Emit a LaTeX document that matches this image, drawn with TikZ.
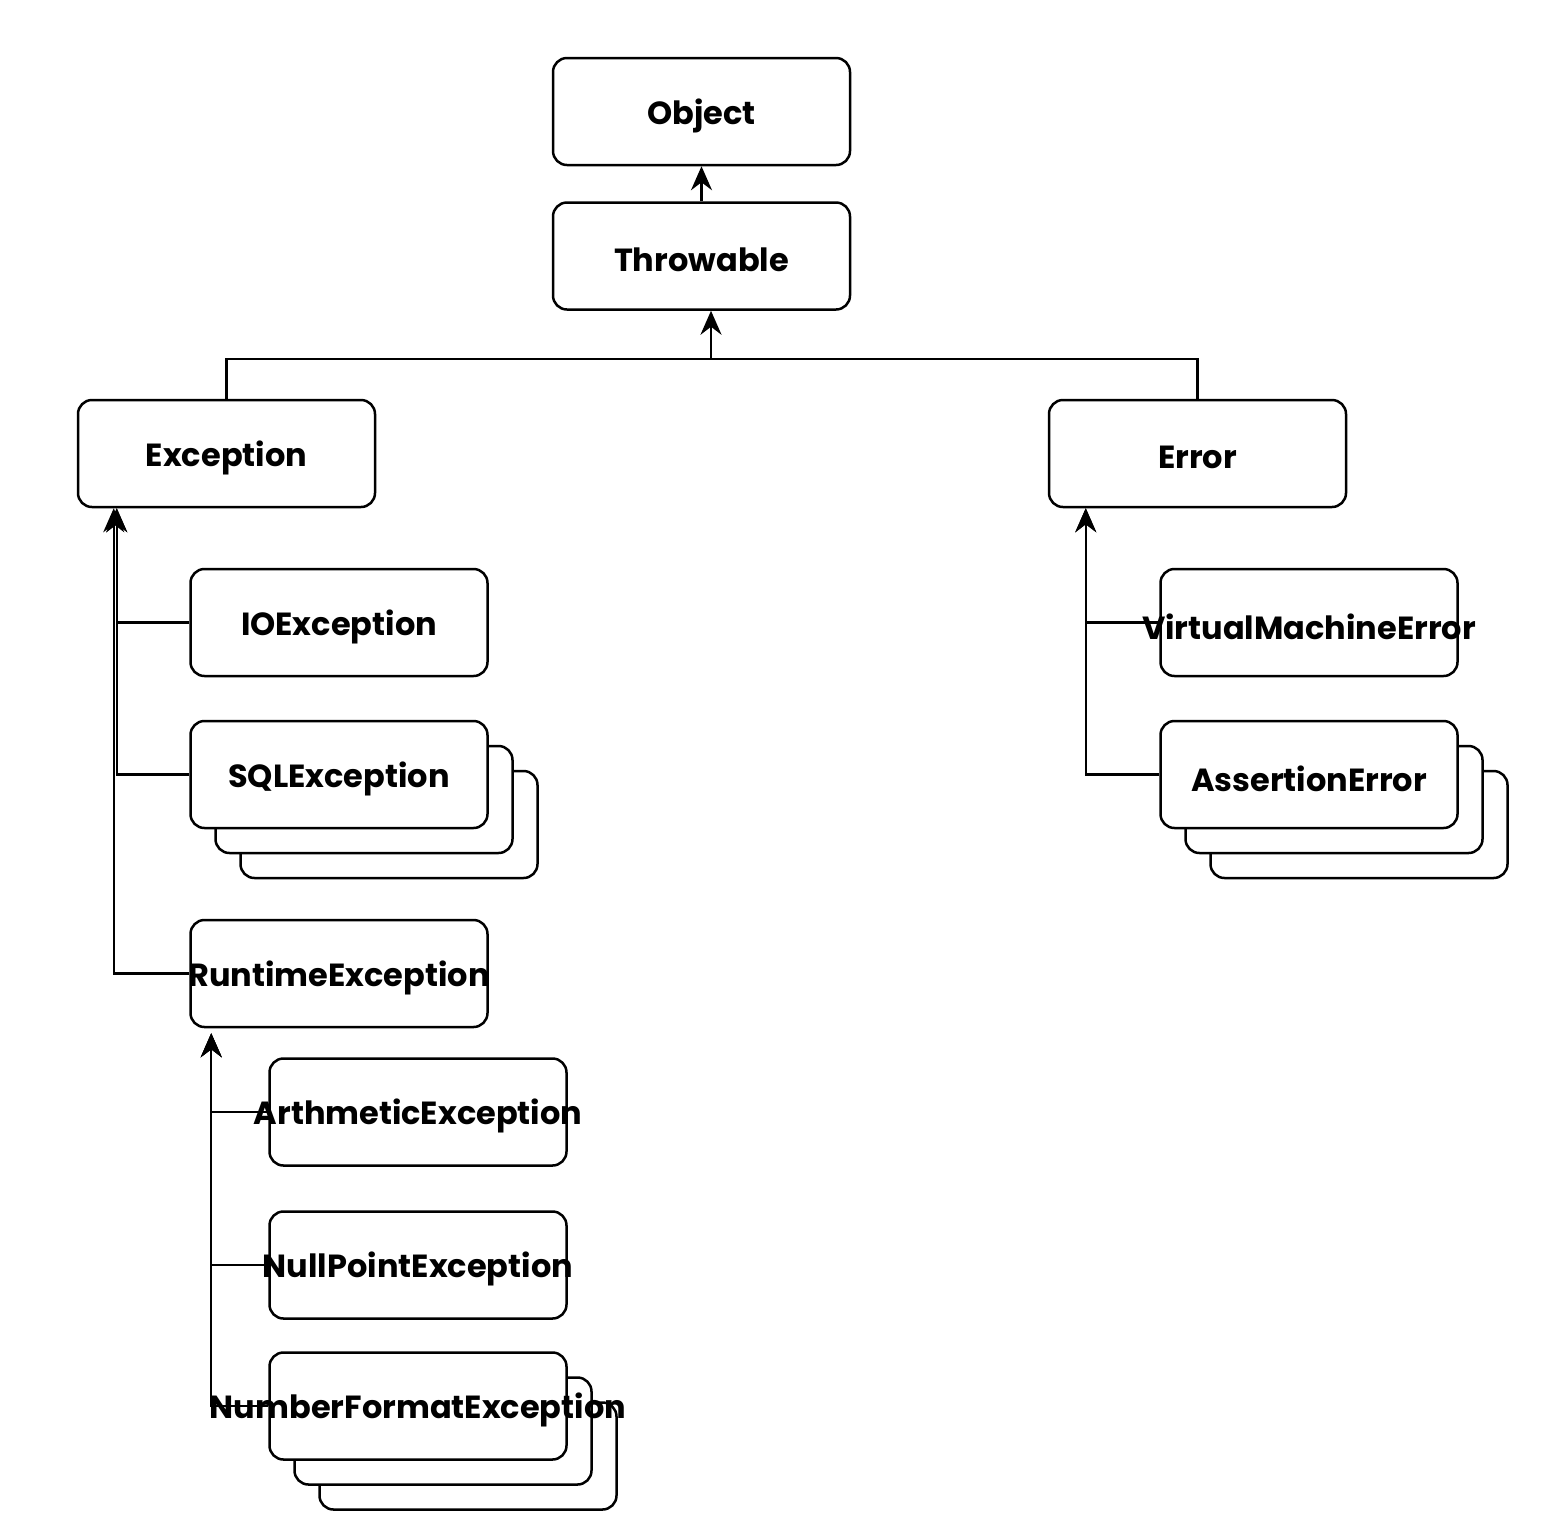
\documentclass[tikz,border=0pt]{standalone}
\usepackage{fontspec}
\setmainfont{Poppins}
\usetikzlibrary{arrows.meta}
\tikzset{
  box/.style={draw, line width=2.5pt, rounded corners=14pt, minimum width=297pt, minimum height=107pt, inner sep=0pt, fill=white},
  lbl/.style={font=\fontsize{32}{38}\selectfont\bfseries, yshift=-4pt},
  cls/.style={box, label={[lbl]center:#1}},
  conn/.style={line width=2.4pt},
  arr/.style={conn, -{Stealth[length=24pt,width=21pt,inset=8pt]}},
}
\begin{document}
\begin{tikzpicture}[x=1pt,y=-1pt]
\useasboundingbox[fill=white] (0,0) rectangle (1568,1535);
% top
\node[cls=Object] (obj) at (701.5,111.5) {};
\node[cls=Throwable] (throw) at (701.5,256) {};
\node[cls=Exception] (exc) at (226.5,453.5) {};
\node[cls=Error] (err) at (1197.5,453.5) {};
% exception children
\node[cls=IOException] (io) at (339,622.5) {};
\node[box] (sql3) at (389,824.5) {};
\node[box] (sql2) at (364,799.5) {};
\node[cls=SQLException] (sql) at (339,774.5) {};
\node[cls=RuntimeException] (rt) at (339,973.5) {};
% runtime children
\node[cls=ArthmeticException] (ar) at (418,1112) {};
\node[cls=NullPointException] (np) at (418,1265) {};
\node[box] (nf3) at (468,1456) {};
\node[box] (nf2) at (443,1431) {};
\node[cls=NumberFormatException] (nf) at (418,1406) {};
% error children
\node[cls=VirtualMachineError] (vme) at (1309,622.5) {};
\node[box] (ae3) at (1359,824.5) {};
\node[box] (ae2) at (1334,799.5) {};
\node[cls=AssertionError] (ae) at (1309,774.5) {};
% connectors
\draw[arr] (throw.north) -- (obj.south);
\coordinate (j) at (711,359);
\draw[conn] (exc.north) |- (j);
\draw[conn] (err.north) |- (j);
\draw[arr] (j) -- (throw.south -| j);
\draw[arr] (io.west) -| ([xshift=40pt]exc.south west);
\draw[arr] (sql.west) -| ([xshift=40pt]exc.south west);
\draw[arr] (rt.west) -| ([xshift=37pt]exc.south west);
\draw[arr] (ar.west) -| ([xshift=-57pt,yshift=-5pt]ar.west |- rt.south);
\draw[arr] (np.west) -| ([xshift=-57pt,yshift=-5pt]np.west |- rt.south);
\draw[arr] (nf.west) -| ([xshift=-57pt,yshift=-5pt]nf.west |- rt.south);
\draw[arr] (vme.west) -| ([xshift=38pt]err.south west);
\draw[arr] (ae.west) -| ([xshift=38pt]err.south west);
\end{tikzpicture}
\end{document}
